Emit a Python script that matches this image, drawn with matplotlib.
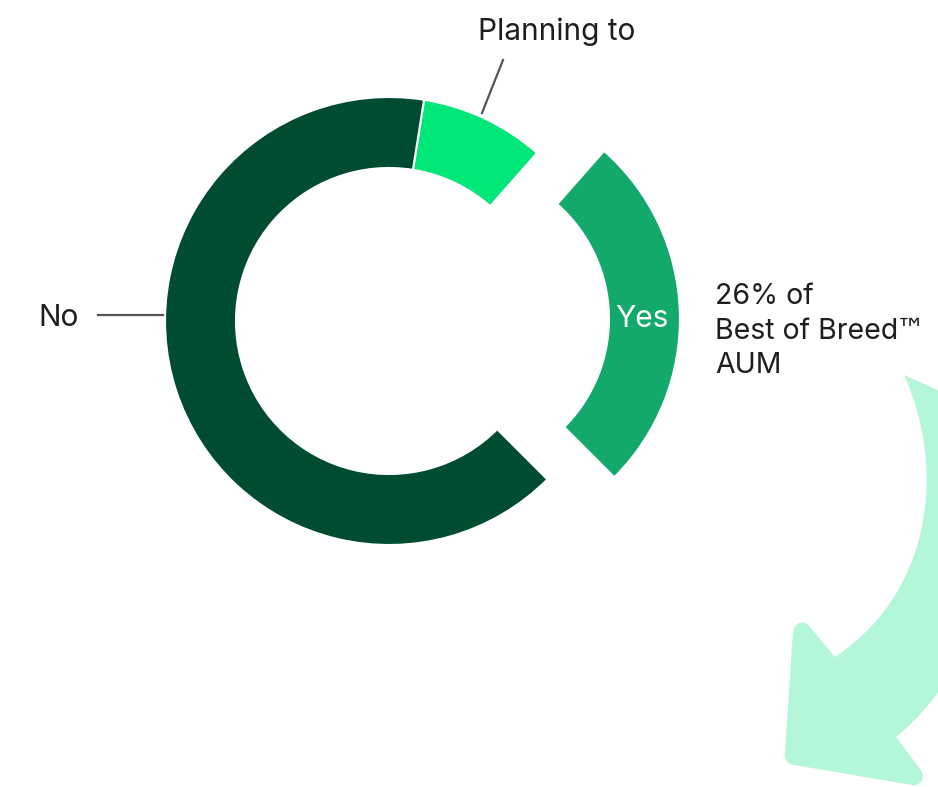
import numpy as np
import matplotlib.pyplot as plt
from matplotlib.path import Path
from matplotlib.patches import PathPatch

plt.rcParams['font.family'] = ['Inter', 'DejaVu Sans']

# survey answers, drawn counter-clockwise starting from "Yes"
labels = ['Yes', 'Planning to', 'No']
shares = [26, 9, 65]
colors = ['#12a96a', '#00e779', '#004b34']
explode = [67, 0, 0]

note_lines = ['26% of', 'Best of Breed', 'AUM']
trademark = '\u2122'

W, H = 938, 787
fig = plt.figure(figsize=(W / 100, H / 100), dpi=100)
ax = fig.add_axes([0, 0, 1, 1])


def py(y):
    # screen-style y (from top) to axes y
    return H - y


cx, cy = 389, py(321)
R = 224
ring = 71

wedges, _ = ax.pie(shares, colors=colors, explode=explode, startangle=-45,
                   counterclock=True, center=(cx, cy), radius=R,
                   wedgeprops=dict(width=ring, edgecolor='white', linewidth=1.5))

ax.set_xlim(0, W)
ax.set_ylim(0, H)
ax.set_aspect('auto')
ax.axis('off')

fs = 21.5
txt = dict(fontsize=fs, color='#1e1e1e', va='baseline')
lead = dict(color='#555555', lw=1.6)

# "Yes" inside its (pulled out) wedge
w = wedges[0]
wx, wy = w.center
ax.text(wx + R - ring / 2 - 3, py(327), labels[0], ha='center',
        va='baseline', fontsize=fs, color='white')

# "Planning to" with a leader line down to its wedge
ax.plot([482, 503], [py(113), py(60)], **lead)
ax.text(478, py(40), labels[1], ha='left', **txt)

# "No" on the left
ax.plot([98, cx - R - 2], [py(315), py(315)], **lead)
ax.text(38, py(326), labels[2], ha='left', **txt)

# side note, trademark sign set in a font with a full size glyph
baselines = [304, 339, 373]
for line, b in zip(note_lines, baselines):
    t = ax.text(715, py(b), line, ha='left', **dict(txt, fontsize=20.5))
    if line == 'Best of Breed':
        fig.canvas.draw()
        bb = t.get_window_extent(renderer=fig.canvas.get_renderer())
        xe = ax.transData.inverted().transform((bb.x1, bb.y0))[0]
        ax.text(xe - 2, py(b), trademark, ha='left', family='DejaVu Sans',
                fontsize=21, color='#1e1e1e', va='baseline')

# big curved arrow pointing down-left
verts = [
    (904, 375),
    (945, 465), (935, 590), (835, 657),
    (810, 627),
    (805, 620), (796, 621), (793, 631),
    (785, 753),
    (784, 760), (788, 764), (794, 765),
    (912, 785),
    (922, 786), (926, 776), (920, 769),
    (896, 737),
    (990, 660), (1030, 500), (960, 400),
    (904, 375),
]
codes = [Path.MOVETO,
         Path.CURVE4, Path.CURVE4, Path.CURVE4,
         Path.LINETO,
         Path.CURVE4, Path.CURVE4, Path.CURVE4,
         Path.LINETO,
         Path.CURVE4, Path.CURVE4, Path.CURVE4,
         Path.LINETO,
         Path.CURVE4, Path.CURVE4, Path.CURVE4,
         Path.LINETO,
         Path.CURVE4, Path.CURVE4, Path.CURVE4,
         Path.CLOSEPOLY]
arrow = Path([(x, py(y)) for x, y in verts], codes)
ax.add_patch(PathPatch(arrow, facecolor='#b3f7d8', edgecolor='none', zorder=0))

fig.savefig('out.png', dpi=100, facecolor='white')
